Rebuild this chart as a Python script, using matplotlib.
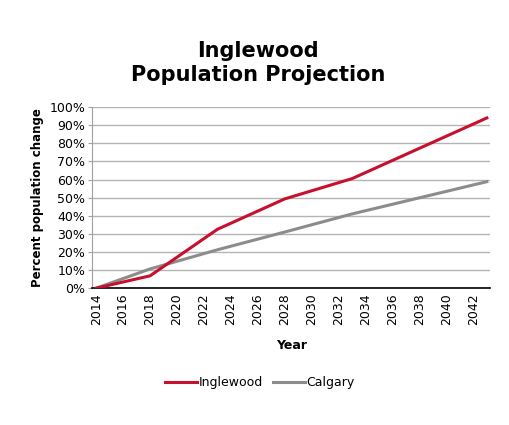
import matplotlib
matplotlib.use("Agg")
import matplotlib.pyplot as plt
from matplotlib.ticker import PercentFormatter

years_ing = [2014, 2018, 2023, 2028, 2033, 2043]
inglewood = [0.0, 6.8, 32.5, 49.3, 60.5, 94.0]
years_cal = [2014, 2018, 2023, 2028, 2033, 2043]
calgary = [0.0, 10.6, 21.2, 31.0, 41.0, 58.8]
tick_years = list(range(2014, 2043, 2))

fig = plt.figure(figsize=(5.09, 4.25), dpi=100)
ax = fig.add_axes([0.181, 0.322, 0.782, 0.426])

ax.plot(years_ing, inglewood, color="#c8102e", lw=2.2, label="Inglewood", zorder=3)
ax.plot(years_cal, calgary, color="#8c8c8c", lw=2.2, label="Calgary", zorder=2)

ax.set_xlim(2013.7, 2043.25)
ax.set_ylim(0, 100)
ax.set_yticks(range(0, 101, 10))
ax.yaxis.set_major_formatter(PercentFormatter(decimals=0))
ax.set_xticks(tick_years)
ax.set_xticklabels([str(y) for y in tick_years], rotation=90, fontsize=9)
ax.tick_params(axis="y", labelsize=9, length=3, color="#a0a0a0", pad=2)
ax.tick_params(axis="x", length=0, pad=4)
ax.grid(axis="y", color="#b4b4b4", lw=1)
ax.set_axisbelow(True)
for s in ["top", "right"]:
    ax.spines[s].set_visible(False)
ax.spines["left"].set_color("#a0a0a0")
ax.spines["bottom"].set_color("#000000")
ax.spines["bottom"].set_linewidth(1.2)

ax.set_xlabel("Year", fontsize=9, fontweight="bold", labelpad=10)
ax.set_ylabel("Percent population change", fontsize=8.5, fontweight="bold", labelpad=4)

fig.text(0.507, 0.852, "Inglewood\nPopulation Projection", ha="center", va="center",
         fontsize=15, fontweight="bold", linespacing=1.3)

fig.legend(loc="center", bbox_to_anchor=(0.51, 0.1), ncol=2, frameon=False,
           fontsize=9, handlelength=2.6, handletextpad=0.1, columnspacing=0.8)

fig.savefig("out.png", dpi=100)
